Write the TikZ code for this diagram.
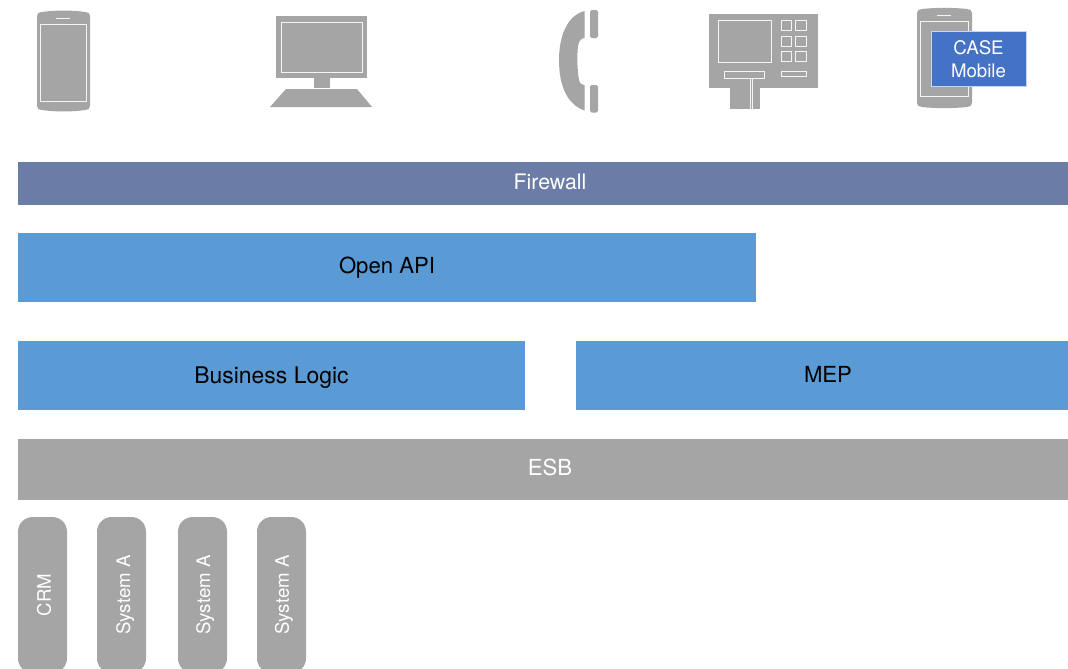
\documentclass[tikz,border=0pt]{standalone}
\usepackage{fontspec}
\setmainfont{TeX Gyre Heros}
\definecolor{fw}{HTML}{6B7CA6}
\definecolor{sky}{HTML}{5B9BD5}
\definecolor{gr}{HTML}{A5A5A5}
\definecolor{cm}{HTML}{4472C4}
\newcommand{\fs}[1]{\fontsize{#1pt}{#1pt}\selectfont}
\tikzset{
  bar/.style n args={3}{rectangle,inner sep=0pt,draw=none,fill=#1,minimum width=#2*0.75pt,minimum height=#3*0.75pt,text depth=0pt,text height=9pt,font=\fs{16.6}},
  pill/.style={rectangle,inner sep=0pt,rotate=90,fill=gr,text=white,rounded corners=11pt,minimum width=117pt,minimum height=36.75pt,text depth=0pt,text height=#1,font=\fs{14}},
  dev/.style={fill=gr,draw=none},
  wl/.style={draw=white!88!gr,line width=0.6pt,fill=none}
}
\begin{document}
\begin{tikzpicture}[x=0.75pt,y=-0.75pt]
\useasboundingbox (0,0) rectangle (1068,668);
\clip (0,0) rectangle (1068,668);
% bars
\node[bar={fw}{1064}{43},text=white,font=\fs{16}] (firewall) at (550,183.5) {Firewall};
\node[bar={sky}{738}{69},text height=8.5pt] (api) at (387,267.5) {Open API};
\node[bar={sky}{507}{69},text height=11.5pt,font=\fs{17.2}] (logic) at (271.5,375.5) {Business Logic};
\node[bar={sky}{504}{69},text height=11pt] (mep) at (828,375.5) {MEP};
\node[bar={gr}{1064}{61},text=white,text height=8.5pt] (esb) at (550,469.5) {ESB};
% systems
\node[pill=12.5pt] (crm) at (42.5,595) {CRM};
\node[pill=12.8pt] (sysa) at (121.5,595) {System A};
\node[pill=11.25pt] (sysb) at (202.5,595) {System A};
\node[pill=11pt] (sysc) at (281.5,595) {System A};
% smartphone 1
\fill[dev] (37,16) .. controls (37,13) and (39,12) .. (42,12) .. controls (55,10) and (72,10) .. (85,12) .. controls (88,12) and (90,13) .. (90,16) -- (90,106) .. controls (90,109) and (88,110) .. (85,110) .. controls (72,112) and (55,112) .. (42,110) .. controls (39,110) and (37,109) .. (37,106) -- cycle;
\draw[wl] (40,24.5) rectangle (86.5,101);
\draw[wl] (56,18) -- (70,18);
% desktop
\fill[dev] (276,16) rectangle (367,78);
\draw[wl] (281.5,22) rectangle (362,72);
\fill[dev] (314,78) rectangle (329.5,88);
\fill[dev] (286,89) -- (357,89) -- (372,107) -- (270,107) -- cycle;
% handset
\fill[dev] (584.5,11) .. controls (566,16) and (559,38) .. (559,60) .. controls (559,84) and (566,104) .. (584.5,110.5) -- (584.5,85) .. controls (582,85) and (580,84) .. (579,80) .. controls (577,68) and (577,55) .. (578,46) .. controls (579,40) and (582,38) .. (584.5,38) -- cycle;
\fill[dev,rounded corners=1.2pt] (590,10) rectangle (598,38);
\fill[dev,rounded corners=1.2pt] (590,85) rectangle (598,112.5);
% ATM
\fill[dev] (709,14) rectangle (818,88);
\draw[wl] (718.3,20) rectangle (771,62);
\foreach \cx in {781,795.7}
  \foreach \cy in {20,36,51}
    \draw[wl] (\cx,\cy) rectangle ++(10.6,10.7);
\draw[wl] (781,71.7) rectangle (806.3,76.5);
\fill[dev] (730,78) rectangle (760,109);
\draw[wl] (724.3,71.7) rectangle (764.3,78.3);
\draw[wl] (750,78) -- (750,109);
\draw[wl] (752,78) -- (752,109);
% smartphone 2
\fill[dev] (917,13) .. controls (917,10) and (919,9.5) .. (922,9) .. controls (935,7.5) and (954,7.5) .. (967,9) .. controls (970,9.5) and (972,10) .. (972,13) -- (972,103) .. controls (972,106) and (970,106.5) .. (967,107) .. controls (954,108.5) and (935,108.5) .. (922,107) .. controls (919,106.5) and (917,106) .. (917,103) -- cycle;
\draw[wl] (920.5,21.7) rectangle (968.7,96.7);
\draw[wl] (937,15.5) -- (951,15.5);
\node[rectangle,fill=cm,draw=white!70!cm,line width=0.5pt,inner sep=0pt,minimum width=71.25pt,minimum height=41.25pt,text=white,align=center,font=\fontsize{14pt}{17.2pt}\selectfont] (case) at (978.5,58.5) {\rule{0pt}{12pt}CASE\\Mobile};
\end{tikzpicture}
\end{document}
